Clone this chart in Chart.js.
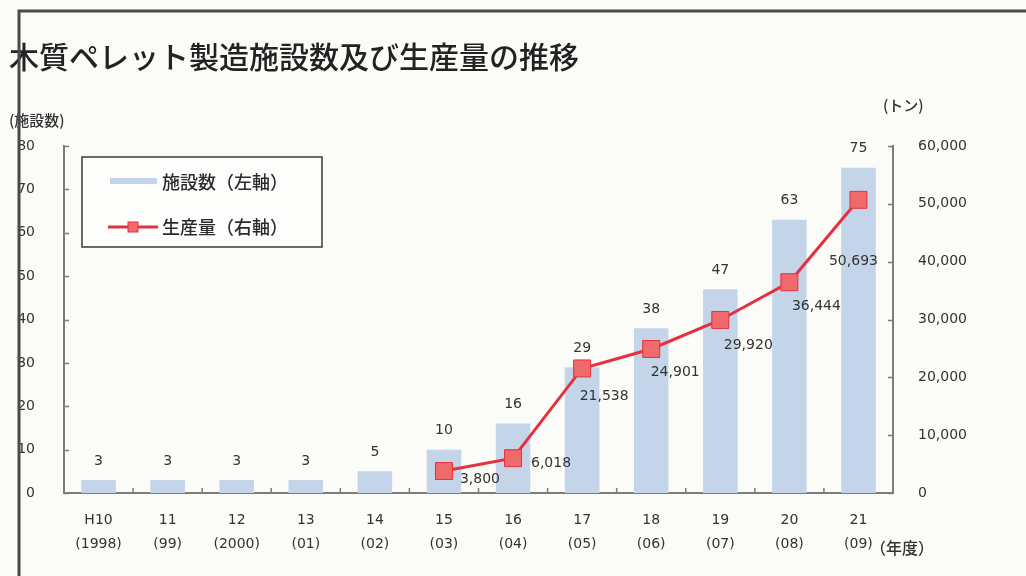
<!doctype html>
<html lang="ja">
<head>
  <meta charset="utf-8">
  <title>木質ペレット製造施設数及び生産量の推移</title>
  <script src="https://cdn.jsdelivr.net/npm/chart.js"></script>
  <style>
    html, body { margin: 0; padding: 0; background: #fbfbf8; }
    #wrap { width: 1026px; height: 576px; position: relative; }
  </style>
</head>
<body>
  <div id="wrap"><canvas id="canvas_pellet" width="1026" height="576"></canvas></div>

  <script type="text/javascript">

    // fiscal years (heisei / western)
    const year_labels = [
      ['H10', '(1998)'], ['11', '(99)'], ['12', '(2000)'], ['13', '(01)'],
      ['14', '(02)'], ['15', '(03)'], ['16', '(04)'], ['17', '(05)'],
      ['18', '(06)'], ['19', '(07)'], ['20', '(08)'], ['21', '(09)']
    ];

    // number of facilities (left axis)
    const facility_counts = [3, 3, 3, 3, 5, 10, 16, 29, 38, 47, 63, 75];

    // production in tonnes (right axis)
    const production_tonnes = [null, null, null, null, null, 3800, 6018, 21538, 24901, 29920, 36444, 50693];

    const left_ticks = { min: 0, max: 80, step: 10 };
    const right_ticks = { min: 0, max: 60000, step: 10000 };

    const title_text = '木質ペレット製造施設数及び生産量の推移';
    const legend_bar_text = '施設数（左軸）';
    const legend_line_text = '生産量（右軸）';

    const num_font = '"DejaVu Sans", Verdana, sans-serif';
    const jp_font = '"Noto Sans CJK JP", sans-serif';

    const bar_color = '#c4d5ea';
    const line_color = '#e5303e';
    const marker_fill = '#f0696b';
    const axis_color = '#7c7c7c';
    const text_color = '#333333';

    // where each production label sits relative to its marker
    const line_label_offsets = [null, null, null, null, null,
      [36, 8], [38, 5], [22, 28], [24, 23], [28, 25], [27, 24], [-5, 62]];

    const fmt = (v) => Number(v).toLocaleString('en-US');

    // texts, legend, frame and inner tick marks
    const decorations = {
      id: 'decorations',
      afterDatasetsDraw(chart) {
        const ctx = chart.ctx;
        const area = chart.chartArea;
        const xs = chart.scales.x, yl = chart.scales.y, yr = chart.scales.y2;

        ctx.save();

        // value labels over the bars
        ctx.fillStyle = text_color;
        ctx.font = '14px ' + num_font;
        ctx.textAlign = 'center';
        ctx.textBaseline = 'middle';
        chart.getDatasetMeta(1).data.forEach((bar, i) => {
          ctx.fillText(String(facility_counts[i]), bar.x, bar.y - 19);
        });

        // value labels by the line markers
        chart.getDatasetMeta(0).data.forEach((pt, i) => {
          const v = production_tonnes[i];
          if (v === null) return;
          const off = line_label_offsets[i];
          ctx.fillText(fmt(v), pt.x + off[0], pt.y + off[1]);
        });

        // inner tick marks
        ctx.strokeStyle = axis_color;
        ctx.lineWidth = 1.5;
        ctx.beginPath();
        for (let v = left_ticks.min; v <= left_ticks.max; v += left_ticks.step) {
          const y = Math.round(yl.getPixelForValue(v)) + 0.5;
          ctx.moveTo(area.left, y); ctx.lineTo(area.left + 5, y);
        }
        for (let v = right_ticks.min; v <= right_ticks.max; v += right_ticks.step) {
          const y = Math.round(yr.getPixelForValue(v)) + 0.5;
          ctx.moveTo(area.right, y); ctx.lineTo(area.right - 5, y);
        }
        for (let i = 1; i < year_labels.length; i++) {
          const x = (xs.getPixelForValue(i - 1) + xs.getPixelForValue(i)) / 2;
          ctx.moveTo(x, area.bottom); ctx.lineTo(x, area.bottom - 5);
        }
        ctx.stroke();

        // legend box
        ctx.fillStyle = '#fdfdfb';
        ctx.fillRect(82, 157, 240, 90);
        ctx.strokeStyle = '#3a3a3a';
        ctx.lineWidth = 1.5;
        ctx.strokeRect(82, 157, 240, 90);

        ctx.fillStyle = bar_color;
        ctx.fillRect(110, 178, 47, 6);

        ctx.strokeStyle = line_color;
        ctx.lineWidth = 3;
        ctx.beginPath();
        ctx.moveTo(108, 227); ctx.lineTo(158, 227);
        ctx.stroke();
        ctx.fillStyle = marker_fill;
        ctx.fillRect(128, 222, 10, 10);
        ctx.lineWidth = 1;
        ctx.strokeRect(128, 222, 10, 10);

        ctx.fillStyle = '#2b2b2b';
        ctx.font = '500 18px ' + jp_font;
        ctx.textAlign = 'left';
        ctx.fillText(legend_bar_text, 162, 182);
        ctx.fillText(legend_line_text, 162, 227);

        // title and axis captions
        ctx.fillStyle = '#222222';
        ctx.font = '500 30px ' + jp_font;
        ctx.fillText(title_text, 9, 57);

        ctx.fillStyle = text_color;
        ctx.font = '500 15px ' + jp_font;
        ctx.fillText('(施設数)', 9, 120);
        ctx.fillText('(トン)', 883, 105);
        ctx.font = '500 16px ' + jp_font;
        ctx.fillText('（年度）', 870, 548);

        // outer frame
        ctx.strokeStyle = '#4a4a4a';
        ctx.lineWidth = 3;
        ctx.beginPath();
        ctx.moveTo(19, 576); ctx.lineTo(19, 11); ctx.lineTo(1026, 11);
        ctx.stroke();

        ctx.restore();
      }
    };

    document.addEventListener('DOMContentLoaded', () => {

      const tick_font = { family: num_font, size: 14 };

      new Chart(document.getElementById('canvas_pellet'), {
        type: 'bar',
        data: {
          labels: year_labels,
          datasets: [
            {
              type: 'line', label: legend_line_text, data: production_tonnes, yAxisID: 'y2', order: 0,
              borderColor: line_color, borderWidth: 3, tension: 0,
              pointStyle: 'rect', pointRadius: 12, pointBackgroundColor: marker_fill,
              pointBorderColor: line_color, pointBorderWidth: 1
            },
            {
              type: 'bar', label: legend_bar_text, data: facility_counts, yAxisID: 'y', order: 1,
              backgroundColor: bar_color, barPercentage: 0.5, categoryPercentage: 1
            }
          ]
        },
        options: {
          responsive: false, animation: false,
          layout: { padding: { top: 146, left: 0, right: 0, bottom: 0 } },
          plugins: { legend: { display: false }, tooltip: { enabled: false } },
          scales: {
            x: {
              grid: { display: false, drawTicks: false },
              border: { display: true, color: axis_color, width: 2 },
              ticks: { color: text_color, font: { ...tick_font, lineHeight: 1.75 }, padding: 15, maxRotation: 0, autoSkip: false },
              afterFit: (s) => { s.height = 83; }
            },
            y: {
              position: 'left', min: left_ticks.min, max: left_ticks.max,
              grid: { display: false, drawTicks: false },
              border: { display: true, color: axis_color, width: 2 },
              ticks: { stepSize: left_ticks.step, color: text_color, font: tick_font, padding: 29 },
              afterFit: (s) => { s.width = 64; }
            },
            y2: {
              position: 'right', min: right_ticks.min, max: right_ticks.max,
              grid: { display: false, drawTicks: false },
              border: { display: true, color: axis_color, width: 2 },
              ticks: { stepSize: right_ticks.step, color: text_color, font: tick_font, padding: 25, callback: (v) => fmt(v) },
              afterFit: (s) => { s.width = 133; }
            }
          }
        },
        plugins: [decorations]
      });
    });

  </script>
</body>
</html>
